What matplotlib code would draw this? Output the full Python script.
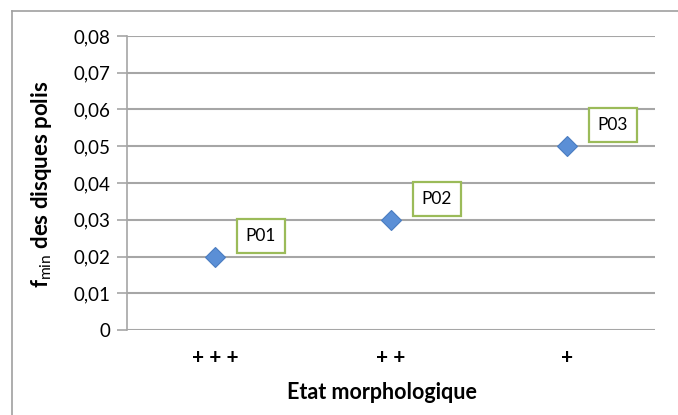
import matplotlib
matplotlib.use('Agg')
import matplotlib.pyplot as plt
from matplotlib.lines import Line2D

plt.rcParams['font.family'] = ['Lato', 'DejaVu Sans']
plt.rcParams['mathtext.fontset'] = 'custom'
plt.rcParams['mathtext.rm'] = 'Lato'
plt.rcParams['mathtext.bf'] = 'Lato:bold'

categories = ['+ + +', '+ +', '+']
values = [0.02, 0.03, 0.05]
point_labels = ['P01', 'P02', 'P03']
y_ticks = [0, 0.01, 0.02, 0.03, 0.04, 0.05, 0.06, 0.07, 0.08]
y_tick_labels = ['0', '0,01', '0,02', '0,03', '0,04', '0,05', '0,06', '0,07', '0,08']

GRID = '#a6a6a6'

fig = plt.figure(figsize=(6.78, 4.15), dpi=100)
ax = fig.add_axes([127 / 678, 1 - 330 / 415, 528 / 678, 294 / 415])

x = list(range(len(categories)))
ax.plot(x, values, linestyle='none', marker='D', markersize=10,
        markerfacecolor='#5b8fd6', markeredgecolor='#4a7cc0', markeredgewidth=0.8, zorder=5)

for xi, yi, lab in zip(x, values, point_labels):
    ax.annotate(lab, (xi, yi), xytext=(33, 15), textcoords='offset points',
                fontsize=12.5, ha='center', va='center',
                bbox=dict(boxstyle='square,pad=0.52', facecolor='white',
                          edgecolor='#9bbb59', linewidth=1.6), zorder=6)

ax.set_xlim(-0.5, len(categories) - 0.5)
ax.set_ylim(0, 0.08)
ax.set_yticks(y_ticks)
ax.set_yticklabels(y_tick_labels, fontsize=13.5)
ax.set_xticks(x)
ax.set_xticklabels(categories, fontsize=15, fontweight='bold')
ax.tick_params(axis='x', length=0, pad=13)
ax.tick_params(axis='y', length=7, width=1.2, color=GRID, pad=5)

ax.yaxis.grid(True, color=GRID, linewidth=1.5)
ax.set_axisbelow(True)
for side in ['top', 'right', 'bottom']:
    ax.spines[side].set_visible(False)
ax.spines['left'].set_color(GRID)
ax.spines['left'].set_linewidth(1.2)

fig.text(382 / 678, 1 - 392 / 415, 'Etat morphologique', fontsize=15.5,
         fontweight='bold', ha='center', va='center')
fig.text(42 / 678, 1 - 184 / 415, r'$\mathbf{f}_{\mathrm{min}}$ des disques polis',
         fontsize=16, fontweight='bold', rotation=90, ha='center', va='center')

# outer chart frame (top and left edges visible)
fig.add_artist(Line2D([12 / 678, 12 / 678], [0, 1 - 11 / 415], color='#a0a0a0',
                      linewidth=1.2, transform=fig.transFigure))
fig.add_artist(Line2D([12 / 678, 1], [1 - 11 / 415, 1 - 11 / 415], color='#a0a0a0',
                      linewidth=1.2, transform=fig.transFigure))

fig.savefig('out.png', dpi=100)
